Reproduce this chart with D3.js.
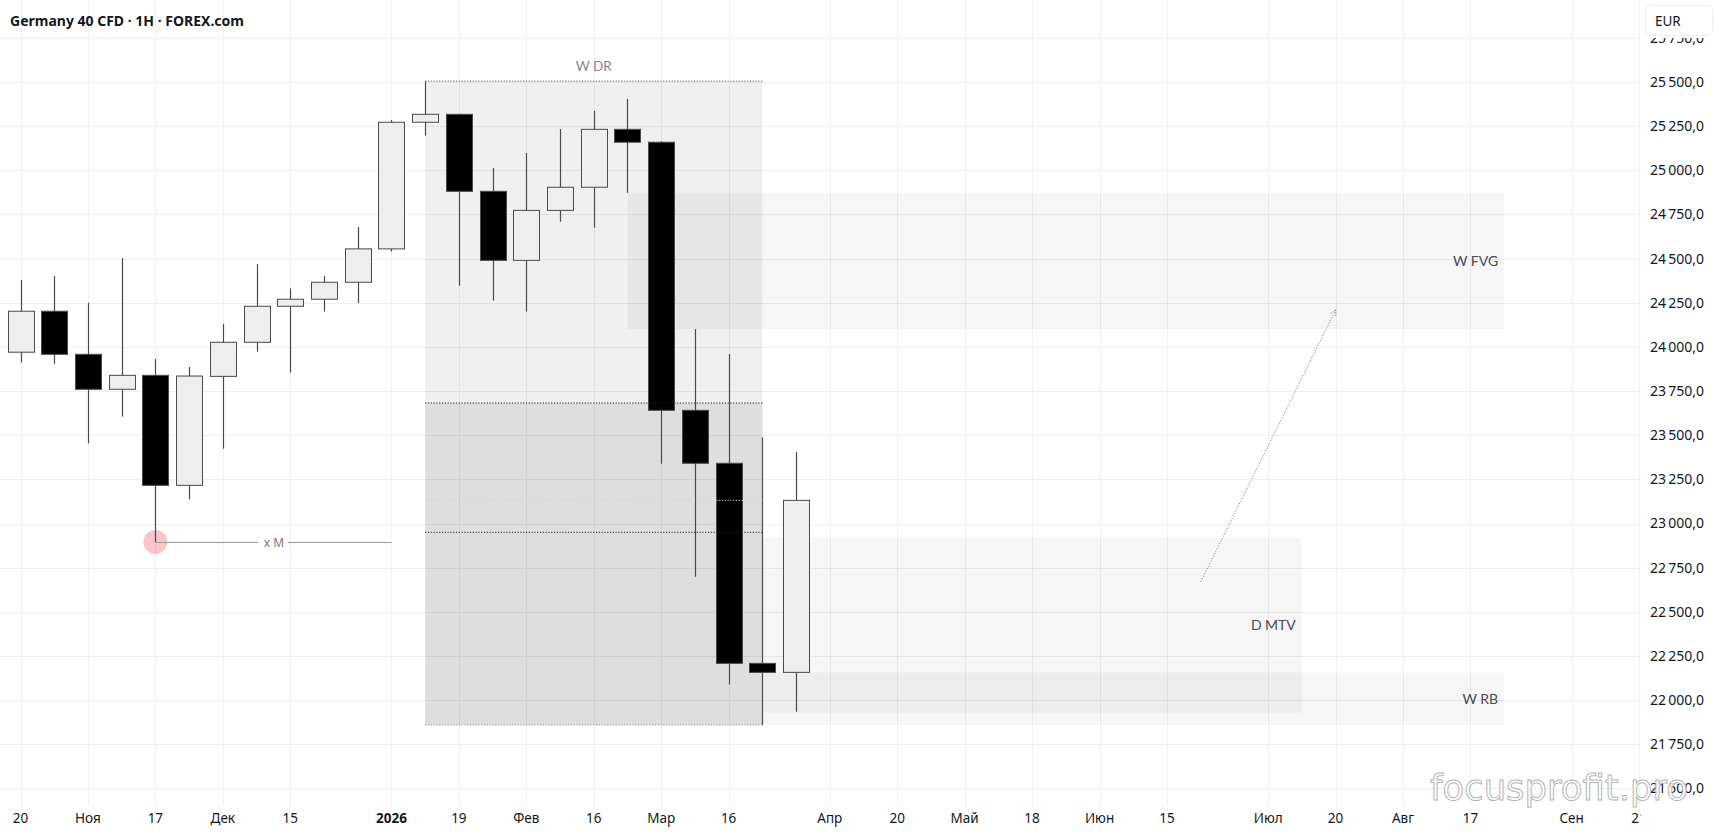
<!DOCTYPE html>
<html><head><meta charset="utf-8">
<script src="https://cdn.jsdelivr.net/npm/d3@7"></script>
<style>html,body{margin:0;padding:0;background:#fff;overflow:hidden}svg{display:block}</style>
</head><body><svg id="c" width="1719" height="837"></svg>
<script>
// ---------- DATA ----------
const title = "Germany 40 CFD · 1H · FOREX.com";
const candleDates = ["2025-10-20","2025-10-27","2025-11-03","2025-11-10","2025-11-17","2025-11-24","2025-12-01","2025-12-08","2025-12-15","2025-12-22","2025-12-29","2026-01-05","2026-01-12","2026-01-19","2026-01-26","2026-02-02","2026-02-09","2026-02-16","2026-02-23","2026-03-02","2026-03-09","2026-03-16","2026-03-23","2026-03-30"];
const opens  = [23970,24202,23958,23760,23839,23216,23833,24026,24230,24270,24366,24555,25272,25317,24881,24490,24773,24904,25232,25159,23641,23341,22208,22157];
const highs  = [24379,24401,24250,24503,23931,23886,24130,24469,24332,24401,24679,25285,25505,25320,25013,25098,25234,25336,25404,25165,24101,23960,23488,23405];
const lows   = [23911,23905,23454,23605,22895,23137,23424,23973,23854,24200,24247,24540,25196,24347,24262,24200,24709,24675,24873,23339,22699,22089,21859,21934];
const closes = [24202,23958,23760,23839,23216,23835,24026,24230,24270,24366,24555,25272,25317,24881,24490,24773,24904,25232,25159,23641,23341,22208,22157,23131];

const priceTicks = d3.range(21500, 25751, 250);
const timeTickDates  = ["2025-10-20","2025-11-03","2025-11-17","2025-12-01","2025-12-15","2026-01-05","2026-01-19","2026-02-02","2026-02-16","2026-03-02","2026-03-16","2026-04-06","2026-04-20","2026-05-04","2026-05-18","2026-06-01","2026-06-15","2026-07-06","2026-07-20","2026-08-03","2026-08-17","2026-09-07","2026-09-21"];
const timeTickLabels = ["20","Ноя","17","Дек","15","2026","19","Фев","16","Мар","16","Апр","20","Май","18","Июн","15","Июл","20","Авг","17","Сен","21"];

// zones: name, start date, end date, top price, bottom price
const zoneNames  = ["W FVG","D MTV","W RB"];
const zoneStarts = ["2026-02-23","2026-03-23","2026-03-23"];
const zoneEnds   = ["2026-08-24","2026-07-13","2026-08-24"];
const zoneTops   = [24873,22918,22157];
const zoneBottoms= [24101,21929,21859];

// dealing range
const drStart = "2026-01-12", drEnd = "2026-03-23";
const drHigh = 25505, drLow = 21859;
const drLevels = [23682, 22950];
const drFaintLevel = 23131;

// x M level
const xmStart = "2025-11-17", xmEnd = "2026-01-05", xmPrice = 22895;
// projection arrow
const arrowDates = ["2026-06-22","2026-07-20"];
const arrowPrices = [22670, 24209];

// ---------- SCALES ----------
const W = 1719, H = 837;
const pd = d3.utcParse("%Y-%m-%d");
const x = d3.scaleUtc().domain([pd("2025-10-20"), pd("2026-09-21")]).range([20.5, 20.5 + 48*33.72]);
const y = d3.scaleLinear().domain([21500, 25500]).range([788.4, 82]);
const fmt = d3.formatLocale({decimal:",", thousands:"\u2009", grouping:[3], currency:["",""]}).format(",.1f");

const svg = d3.select("#c");
const font = "'Noto Sans', 'Open Sans', sans-serif";
svg.append("rect").attr("width",W).attr("height",H).attr("fill","#ffffff");

// grid
const grid = svg.append("g");
grid.selectAll("line.h").data(priceTicks).join("line")
  .attr("x1",0).attr("x2",1641).attr("y1",d=>Math.round(y(d))+0.5).attr("y2",d=>Math.round(y(d))+0.5)
  .attr("stroke","#f0f0f2");
grid.selectAll("line.v").data(timeTickDates).join("line")
  .attr("x1",d=>Math.round(x(pd(d)))+0.5).attr("x2",d=>Math.round(x(pd(d)))+0.5).attr("y1",0).attr("y2",806)
  .attr("stroke","#f0f0f2");

// zones
const zg = svg.append("g");
zoneNames.forEach((n,i)=>{
  zg.append("rect").attr("x",x(pd(zoneStarts[i]))).attr("width",x(pd(zoneEnds[i]))-x(pd(zoneStarts[i])))
    .attr("y",y(zoneTops[i])).attr("height",y(zoneBottoms[i])-y(zoneTops[i]))
    .attr("fill","rgba(0,0,0,0.037)");
});
// dealing range
const dx0 = x(pd(drStart)), dx1 = x(pd(drEnd));
zg.append("rect").attr("x",dx0).attr("width",dx1-dx0).attr("y",y(drHigh)).attr("height",y(drLevels[0])-y(drHigh)).attr("fill","rgba(0,0,0,0.058)");
zg.append("rect").attr("x",dx0).attr("width",dx1-dx0).attr("y",y(drLevels[0])).attr("height",y(drLow)-y(drLevels[0])).attr("fill","rgba(0,0,0,0.13)");

// x M
const xmx0 = x(pd(xmStart)), xmx1 = x(pd(xmEnd)), xmy = Math.round(y(xmPrice))+0.5;
svg.append("circle").attr("cx",xmx0).attr("cy",y(xmPrice)).attr("r",12).attr("fill","rgba(239,90,102,0.35)");
svg.append("line").attr("x1",xmx0).attr("x2",258).attr("y1",xmy).attr("y2",xmy).attr("stroke","#9a9a9a");
svg.append("line").attr("x1",288).attr("x2",xmx1).attr("y1",xmy).attr("y2",xmy).attr("stroke","#9a9a9a");
svg.append("text").attr("x",(xmx0+xmx1)/2+0.5).attr("y",xmy).attr("dy","0.35em").attr("text-anchor","middle")
  .attr("font-family",font).attr("font-size",12).attr("fill","#777").text("x M");

// candles
const cg = svg.append("g");
candleDates.forEach((d,i)=>{
  const cx = Math.round(x(pd(d)))+0.5;
  const up = closes[i] >= opens[i];
  cg.append("line").attr("x1",cx).attr("x2",cx).attr("y1",y(highs[i])).attr("y2",y(lows[i])).attr("stroke","#4a4a4a").attr("stroke-width",1.2);
  const top = y(Math.max(opens[i],closes[i])), bot = y(Math.min(opens[i],closes[i]));
  cg.append("rect").attr("x",cx-13).attr("width",26).attr("y",top).attr("height",Math.max(1,bot-top))
    .attr("fill",up?"#eeeeee":"#000000").attr("stroke","#4a4a4a").attr("stroke-width",1);
});

// dealing range lines (above candles)
const dl = svg.append("g");
dl.append("line").attr("x1",dx0).attr("x2",dx1).attr("y1",y(drHigh)).attr("y2",y(drHigh)).attr("stroke","#666").attr("stroke-dasharray","1.2,1.6");
drLevels.forEach(v=>{
  dl.append("line").attr("x1",dx0).attr("x2",dx1).attr("y1",y(v)).attr("y2",y(v)).attr("stroke","#222").attr("stroke-dasharray","1.2,1.6");
});
dl.append("line").attr("x1",dx0).attr("x2",dx1).attr("y1",y(drLow)).attr("y2",y(drLow)).attr("stroke","#999").attr("stroke-dasharray","1.2,1.6");
dl.append("line").attr("x1",dx0).attr("x2",dx1).attr("y1",y(drFaintLevel)).attr("y2",y(drFaintLevel)).attr("stroke","#d4d4d4").attr("stroke-dasharray","1.2,1.6");

// zone labels
const lbl = svg.append("g").attr("font-family","'Lato','Open Sans',sans-serif").attr("font-size",14).attr("fill","#4a4a4a");
lbl.append("text").attr("x",(dx0+dx1)/2).attr("y",y(drHigh)-15).attr("dy","0.35em").attr("text-anchor","middle").attr("fill","#888").attr("font-size",13.5).text("W DR");
zoneNames.forEach((n,i)=>{
  lbl.append("text").attr("x",x(pd(zoneEnds[i]))-6).attr("y",(y(zoneTops[i])+y(zoneBottoms[i]))/2).attr("dy","0.35em")
    .attr("text-anchor","end").text(n);
});

// arrow
const ax0 = x(pd(arrowDates[0])), ay0 = y(arrowPrices[0]), ax1 = x(pd(arrowDates[1])), ay1 = y(arrowPrices[1]);
svg.append("line").attr("x1",ax0).attr("y1",ay0).attr("x2",ax1).attr("y2",ay1).attr("stroke","#888").attr("stroke-dasharray","1.2,1.6");
const ang = Math.atan2(ay1-ay0, ax1-ax0);
const hl = 7;
[ -0.5, 0.5 ].forEach(s=>{
  svg.append("line").attr("x1",ax1).attr("y1",ay1)
    .attr("x2",ax1 - hl*Math.cos(ang+s)).attr("y2",ay1 - hl*Math.sin(ang+s))
    .attr("stroke","#888").attr("stroke-dasharray","1.2,1.2");
});

// time axis
const ta = svg.append("g").attr("font-family",font).attr("font-size",13.5).attr("fill","#131722");
timeTickDates.forEach((d,i)=>{
  ta.append("text").attr("x",x(pd(d))).attr("y",818).attr("dy","0.35em").attr("text-anchor","middle")
    .attr("font-weight",timeTickLabels[i]==="2026"?"700":"400").text(timeTickLabels[i]);
});

// price axis panel
svg.append("rect").attr("x",1641).attr("y",0).attr("width",W-1641).attr("height",H).attr("fill","#ffffff");
const pa = svg.append("g").attr("font-family",font).attr("font-size",14).attr("fill","#131722");
priceTicks.forEach(v=>{
  pa.append("text").attr("x",1650).attr("y",y(v)).attr("dy","0.35em").text(fmt(v));
});
svg.append("rect").attr("x",1641).attr("y",0).attr("width",W-1641).attr("height",38).attr("fill","#ffffff");
svg.append("rect").attr("x",1645.5).attr("y",5.5).attr("width",67).attr("height",30).attr("rx",4)
  .attr("fill","#ffffff").attr("stroke","#eceef2");
svg.append("text").attr("x",1655).attr("y",21).attr("dy","0.35em").attr("font-family",font).attr("font-size",13.5).attr("fill","#131722").text("EUR");

// title
svg.append("text").attr("x",10).attr("y",21).attr("dy","0.35em").attr("font-family",font).attr("font-weight","700")
  .attr("font-size",14).attr("fill","#131722").text(title);

// watermark
svg.append("text").attr("x",1430).attr("y",800).attr("font-family","'DejaVu Sans',sans-serif").attr("font-size",36)
  .attr("textLength",258).attr("lengthAdjust","spacingAndGlyphs")
  .attr("fill","rgba(255,255,255,0.85)").attr("stroke","#b4b4b4").attr("stroke-width",1).text("focusprofit.pro");
</script></body></html>
